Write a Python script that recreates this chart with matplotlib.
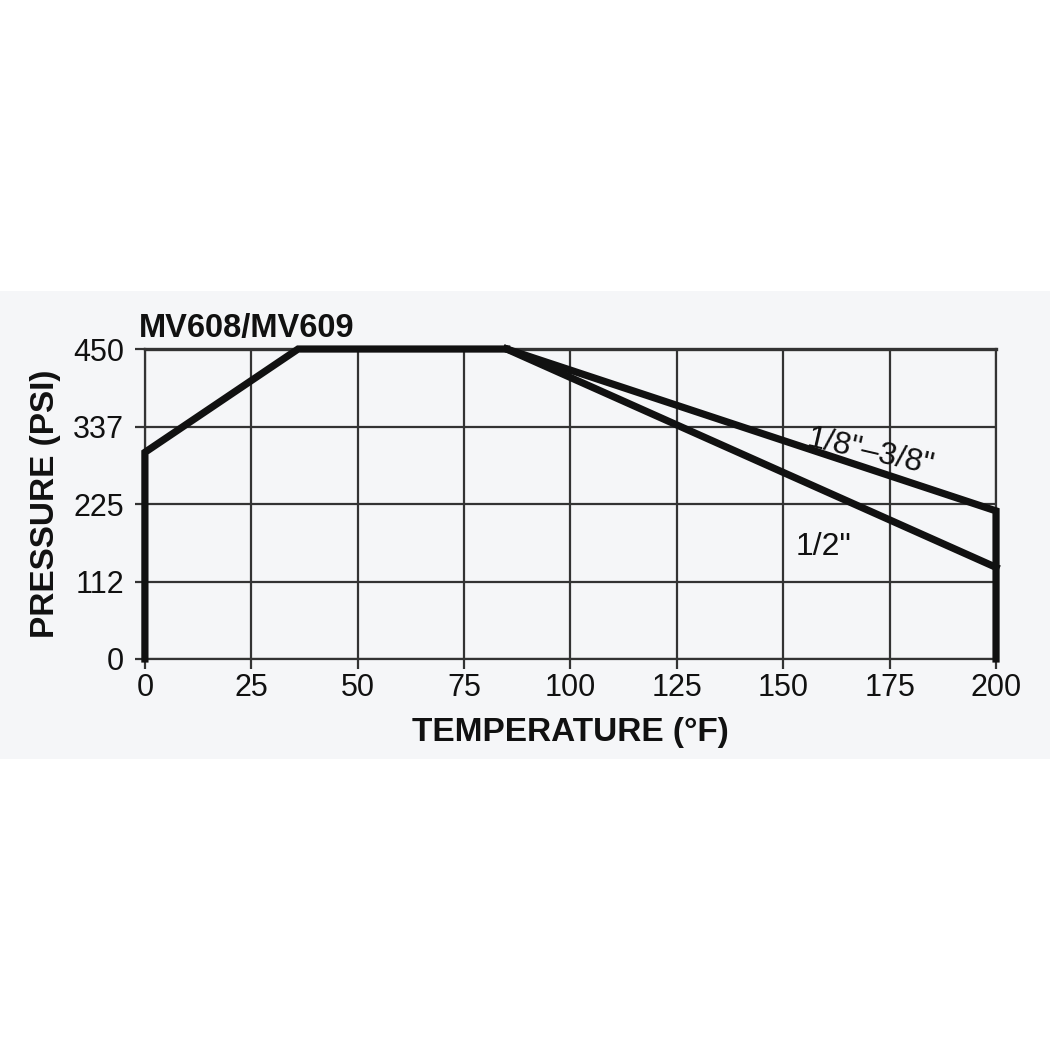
#!/usr/bin/env python3
"""MV608/MV609 pressure-temperature rating chart."""
import matplotlib.pyplot as plt
from matplotlib.patches import Rectangle

plt.rcParams["font.family"] = ["Liberation Sans", "DejaVu Sans"]

# shared envelope: vertical rise at 0 F, ramp, then plateau
TEMP_COMMON = [0, 0, 36, 85]
PRESS_COMMON = [0, 300, 450, 450]

# 1/8"-3/8" sizes
TEMP_SMALL = [85, 200, 200]
PRESS_SMALL = [450, 215, 0]

# 1/2" size
TEMP_HALF = [85, 200]
PRESS_HALF = [450, 133]

X_TICKS = [0, 25, 50, 75, 100, 125, 150, 175, 200]
Y_TICKS = [0, 112, 225, 337, 450]

BG = "#f5f6f8"
INK = "#111111"
GRID = "#333333"


def main():
    fig = plt.figure(figsize=(10.5, 10.5), dpi=100, facecolor="white")
    band = Rectangle((0, 0.277), 1, 0.446, transform=fig.transFigure,
                     facecolor=BG, edgecolor="none", zorder=-10)
    fig.add_artist(band)

    ax = fig.add_axes([0.138, 0.3724, 0.8106, 0.2952])
    ax.set_facecolor(BG)

    ax.set_xlim(0, 200)
    ax.set_ylim(0, 450)
    ax.set_xticks(X_TICKS)
    ax.set_yticks(Y_TICKS)
    ax.grid(True, color=GRID, linewidth=1.6)
    ax.set_axisbelow(True)
    for side, spine in ax.spines.items():
        spine.set_color(GRID)
        spine.set_linewidth(1.6)
    ax.spines["top"].set_linewidth(2.4)
    ax.tick_params(direction="out", length=7, width=1.6, color=GRID,
                   labelsize=22, labelcolor=INK)
    ax.tick_params(axis="x", pad=3)
    ax.tick_params(axis="y", pad=8)

    lw = 5.2
    ax.plot(TEMP_COMMON, PRESS_COMMON, color=INK, linewidth=lw,
            solid_joinstyle="miter", clip_on=False, zorder=5)
    ax.plot(TEMP_SMALL, PRESS_SMALL, color=INK, linewidth=lw,
            solid_joinstyle="miter", clip_on=False, zorder=5)
    ax.plot(TEMP_HALF, PRESS_HALF, color=INK, linewidth=lw,
            solid_joinstyle="miter", clip_on=False, zorder=5)

    ax.text(170.5, 300, "1/8\"–3/8\"", fontsize=23, rotation=-13,
            ha="center", va="center", color=INK, zorder=6)
    ax.text(159.5, 163, "1/2\"", fontsize=23, ha="center", va="center",
            color=INK, zorder=6)

    ax.text(-1.5, 458, "MV608/MV609", fontsize=23.5, fontweight="bold",
            ha="left", va="bottom", color=INK)
    ax.set_xlabel("TEMPERATURE (°F)", fontsize=24, fontweight="bold",
                  color=INK, labelpad=10)
    ax.set_ylabel("PRESSURE (PSI)", fontsize=24, fontweight="bold",
                  color=INK, labelpad=9)

    fig.savefig("out.png", dpi=100, facecolor="white")


if __name__ == "__main__":
    main()
